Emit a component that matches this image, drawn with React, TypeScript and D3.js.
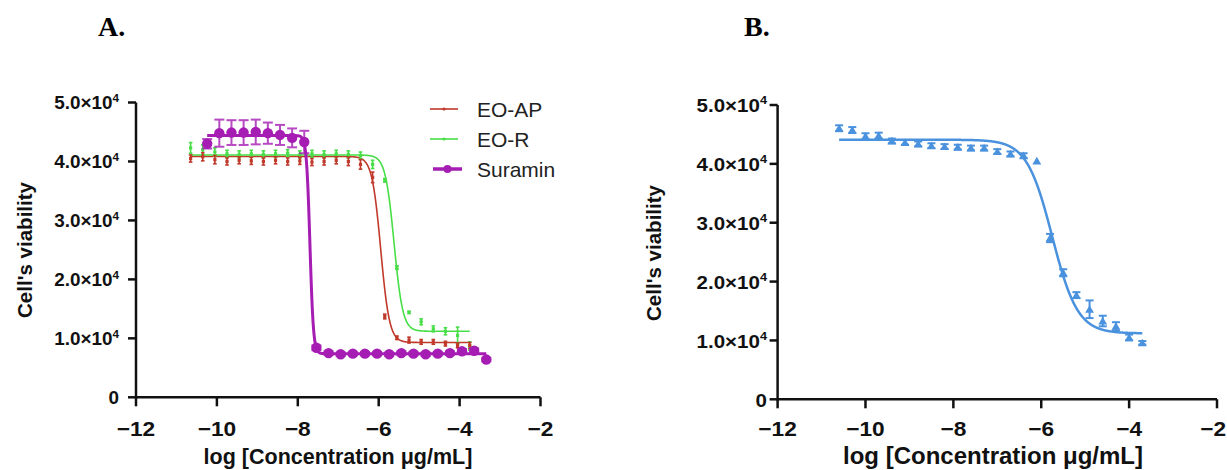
import React from "react";
import * as d3 from "d3";

const W = 1227;
const H = 470;

// panel A: log concentration of the two essential oils
const oilLog = [-10.65, -10.35, -10.05, -9.75, -9.45, -9.15, -8.85, -8.55, -8.25, -7.95, -7.65, -7.35, -7.05, -6.75, -6.45, -6.15, -5.85, -5.55, -5.25, -4.95, -4.65, -4.35, -4.05, -3.75];
const eoApMean = [40500, 40800, 40300, 40000, 40200, 40100, 40000, 40200, 40000, 40100, 39900, 40000, 40200, 40000, 39500, 37300, 13700, 10100, 9700, 9400, 9400, 9100, 8800, 8800];
const eoApSd = [600, 700, 700, 600, 600, 600, 600, 600, 600, 600, 600, 600, 600, 700, 800, 900, 400, 300, 500, 400, 400, 400, 400, 500];
const eoRMean = [42300, 42000, 41600, 41300, 41200, 41300, 41200, 41300, 41400, 41200, 41300, 41200, 41300, 41200, 41000, 39500, 36800, 22000, 14400, 12800, 11600, 11200, 10500, 8700];
const eoRSd = [900, 800, 700, 600, 600, 600, 600, 600, 600, 600, 600, 600, 600, 600, 600, 700, 300, 300, 200, 500, 500, 600, 1400, 700];

// suramin control
const surLog = [-10.24, -9.94, -9.64, -9.34, -9.04, -8.74, -8.44, -8.14, -7.84, -7.54, -7.24, -6.94, -6.64, -6.34, -6.04, -5.74, -5.44, -5.14, -4.84, -4.54, -4.24, -3.94, -3.64, -3.34];
const surMean = [43000, 44800, 44900, 44900, 45000, 44800, 44500, 44000, 43300, 8400, 7500, 7300, 7400, 7400, 7400, 7300, 7500, 7400, 7300, 7400, 7500, 7800, 7900, 6400];
const surSd = [800, 2300, 2100, 2100, 2100, 1800, 1700, 1600, 1900, 400, 300, 300, 300, 300, 300, 300, 300, 300, 300, 300, 300, 400, 400, 300];

// panel B
const bLog = [-10.6, -10.3, -10.0, -9.7, -9.4, -9.1, -8.8, -8.5, -8.2, -7.9, -7.6, -7.3, -7.0, -6.7, -6.4, -6.1, -5.8, -5.5, -5.2, -4.9, -4.6, -4.3, -4.0, -3.7];
const bMean = [46050, 45750, 44700, 44800, 43900, 43650, 43400, 43100, 42950, 42850, 42700, 42700, 42100, 41700, 41400, 40500, 27400, 21500, 17700, 15300, 13300, 12400, 10500, 9600];
const bSd = [500, 500, 500, 500, 400, 400, 400, 400, 400, 400, 400, 400, 400, 400, 400, 0, 700, 600, 500, 1500, 900, 700, 500, 300];

// fitted 4PL curves: [top, bottom, logIC50, hill]
const eoApFit = [40850, 9300, -5.95, 4];
const eoRFit = [41100, 11200, -5.62, 4];
const surFit = [44400, 7400, -7.7, 10];
const bFit = [44100, 11200, -5.75, 1.5];

const xTicks = [-12, -10, -8, -6, -4, -2];
const yTicks = [0, 10000, 20000, 30000, 40000, 50000];
const legendLabels = ["EO-AP", "EO-R", "Suramin"];

const RED = "#C0392B";
const GREEN = "#47DE47";
const PURPLE = "#A51DB3";
const BLUE = "#4A92DE";
const SANS = "'Liberation Sans', Arial, sans-serif";

function fourPL(x, p) {
  const [top, bottom, ic, hill] = p;
  return bottom + (top - bottom) / (1 + Math.pow(10, (x - ic) * hill));
}

function fitPath(xs, p, x, y) {
  const lo = d3.min(xs), hi = d3.max(xs);
  const pts = d3.range(lo, hi, 0.005).concat([hi]);
  return d3.line().x(d => x(d)).y(d => y(fourPL(d, p)))(pts);
}

function Axes({ x, y, labelEnd, labelSize, titleX, titleSize, yTitleX, yTitleY }) {
  const x0 = x(-12), y0 = y(0);
  return (
    <g fontFamily={SANS} fontWeight="bold" fill="#111">
      <line x1={x0} x2={x(-2)} y1={y0} y2={y0} stroke="#111" strokeWidth={2.5} />
      <line x1={x0} x2={x0} y1={y0 + 1.2} y2={y(50000)} stroke="#111" strokeWidth={2.5} />
      {xTicks.map(t => {
        // keep the last label inside the page edge
        const tooFar = x(t) + 18 > W;
        const lx = tooFar ? W - 1 : x(t);
        return (
          <g key={t}>
            <line x1={x(t)} x2={x(t)} y1={y0} y2={y0 + 9} stroke="#111" strokeWidth={2.5} />
            <text transform={`translate(${lx},436) scale(1.08,1)`} fontSize={21} textAnchor={tooFar ? "end" : "middle"}>{"\u2212" + Math.abs(t)}</text>
          </g>
        );
      })}
      {yTicks.map(t => (
        <g key={t}>
          <line x1={x0 - 8} x2={x0} y1={y(t)} y2={y(t)} stroke="#111" strokeWidth={2.5} />
          <text transform={`translate(${labelEnd},${y(t) + labelSize * 0.38}) scale(1.08,1)`} fontSize={labelSize} textAnchor="end">
            {t === 0 ? "0" : (
              <>
                {(t / 10000).toFixed(1) + "\u00D710"}
                <tspan fontSize={labelSize * 0.62} dy={-labelSize * 0.42}>4</tspan>
              </>
            )}
          </text>
        </g>
      ))}
      <text x={titleX} y={464} fontSize={titleSize} textAnchor="middle">log [Concentration {"\u03BC"}g/mL]</text>
      <text transform={`translate(${yTitleX},${yTitleY}) rotate(-90)`} fontSize={20.5} textAnchor="middle">Cell's viability</text>
    </g>
  );
}

function ErrorBars({ xs, ms, sds, x, y, color, cap, width, opacity = 1 }) {
  return (
    <g stroke={color} strokeWidth={width} opacity={opacity}>
      {xs.map((v, i) => sds[i] > 0 && (
        <g key={i}>
          <line x1={x(v)} x2={x(v)} y1={y(ms[i] - sds[i])} y2={y(ms[i] + sds[i])} />
          <line x1={x(v) - cap} x2={x(v) + cap} y1={y(ms[i] + sds[i])} y2={y(ms[i] + sds[i])} />
          <line x1={x(v) - cap} x2={x(v) + cap} y1={y(ms[i] - sds[i])} y2={y(ms[i] - sds[i])} />
        </g>
      ))}
    </g>
  );
}

export default function App() {
  const xA = d3.scaleLinear().domain([-12, -2]).range([136, 540.5]);
  const yA = d3.scaleLinear().domain([0, 50000]).range([397.3, 102.5]);
  const xB = d3.scaleLinear().domain([-12, -2]).range([777.6, 1217]);
  const yB = d3.scaleLinear().domain([0, 50000]).range([399.3, 105]);

  const legendColors = [RED, GREEN, PURPLE];
  const tri = d3.symbol().type(d3.symbolTriangle).size(34)();

  return (
    <svg width={W} height={H} style={{ position: "absolute", left: 0, top: 0, background: "#fff" }}>
      <text x={98} y={36} fontFamily="'Liberation Serif', 'Times New Roman', serif" fontWeight="bold" fontSize={28}>A.</text>
      <text x={744} y={36} fontFamily="'Liberation Serif', 'Times New Roman', serif" fontWeight="bold" fontSize={28}>B.</text>

      {/* panel A */}
      <Axes x={xA} y={yA} labelEnd={119} labelSize={17.5} titleX={338} titleSize={21.5} yTitleX={32} yTitleY={250} />
      <path d={fitPath(oilLog, eoApFit, xA, yA)} fill="none" stroke={RED} strokeWidth={1.6} />
      <path d={fitPath(oilLog, eoRFit, xA, yA)} fill="none" stroke={GREEN} strokeWidth={1.6} />
      <ErrorBars xs={oilLog} ms={eoRMean} sds={eoRSd} x={xA} y={yA} color={GREEN} cap={1.8} width={1.6} />
      <ErrorBars xs={oilLog} ms={eoApMean} sds={eoApSd} x={xA} y={yA} color={RED} cap={1.8} width={1.6} />
      {oilLog.map((v, i) => (
        <g key={i}>
          <rect x={xA(v) - 1.6} y={yA(eoRMean[i]) - 1.6} width={3.2} height={3.2} fill={GREEN} />
          <rect x={xA(v) - 1.6} y={yA(eoApMean[i]) - 1.6} width={3.2} height={3.2} fill={RED} />
        </g>
      ))}
      <ErrorBars xs={surLog} ms={surMean} sds={surSd} x={xA} y={yA} color={PURPLE} cap={5} width={2} opacity={0.8} />
      <path d={fitPath(surLog, surFit, xA, yA)} fill="none" stroke={PURPLE} strokeWidth={3} />
      {surLog.map((v, i) => (
        <circle key={i} cx={xA(v)} cy={yA(surMean[i])} r={5.2} fill={PURPLE} />
      ))}

      {/* legend */}
      <g fontFamily={SANS} fontSize={21} fill="#222">
        {legendLabels.map((l, i) => {
          const ly = 109 + i * 30;
          const big = i === 2;
          return (
            <g key={l}>
              <line x1={big ? 433 : 430} x2={big ? 462 : 458} y1={ly} y2={ly} stroke={legendColors[i]} strokeWidth={big ? 3.5 : 1.6} />
              <circle cx={big ? 447.5 : 444} cy={ly} r={big ? 4 : 1.6} fill={legendColors[i]} />
              <text x={477} y={ly + 7.5}>{l}</text>
            </g>
          );
        })}
      </g>

      {/* panel B */}
      <Axes x={xB} y={yB} labelEnd={767} labelSize={19} titleX={993} titleSize={24} yTitleX={661} yTitleY={253} />
      <ErrorBars xs={bLog} ms={bMean} sds={bSd} x={xB} y={yB} color={BLUE} cap={4} width={2} />
      <path d={fitPath(bLog, bFit, xB, yB)} fill="none" stroke={BLUE} strokeWidth={2.5} />
      {bLog.map((v, i) => (
        <path key={i} d={tri} transform={`translate(${xB(v)},${yB(bMean[i]) + 1})`} fill={BLUE} />
      ))}
    </svg>
  );
}
